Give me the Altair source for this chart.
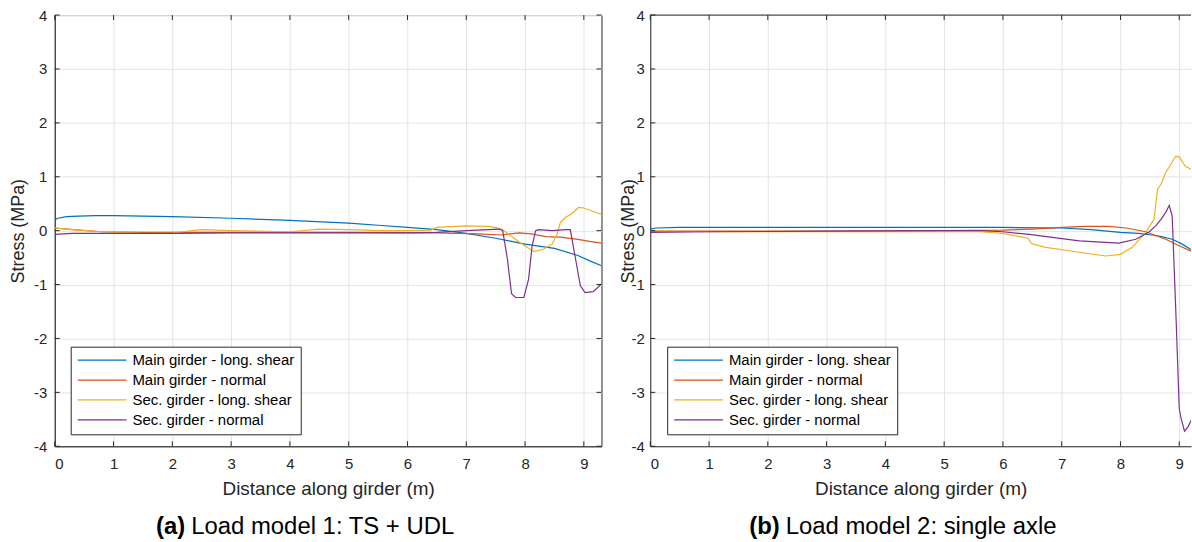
import altair as alt
import pandas as pd

SERIES = ["Main girder - long. shear", "Main girder - normal",
          "Sec. girder - long. shear", "Sec. girder - normal"]
COLORS = ["#0072BD", "#D95319", "#EDB120", "#7E2F8E"]
X_TICKS = list(range(0, 10))
Y_TICKS = list(range(-4, 5))

# ---- (a) Load model 1: TS + UDL ----
a_mgs_x = [0, 0.05, 0.2, 0.4, 0.7, 1.0, 1.5, 2.0, 3.0, 4.0, 5.0, 5.5, 6.0, 6.5, 7.0, 7.5, 8.0, 8.5, 8.9, 9.1, 9.3]
a_mgs_y = [0.20, 0.23, 0.26, 0.27, 0.28, 0.28, 0.27, 0.26, 0.23, 0.19, 0.14, 0.10, 0.06, 0.02, -0.05, -0.14, -0.25, -0.33, -0.46, -0.56, -0.65]
a_mgn_x = [0, 0.3, 0.8, 1.5, 3, 5, 6.5, 7.2, 7.6, 7.9, 8.1, 8.35, 8.6, 8.9, 9.1, 9.3]
a_mgn_y = [0.05, 0.02, -0.02, -0.03, -0.03, -0.03, -0.04, -0.06, -0.08, -0.04, -0.06, -0.11, -0.12, -0.16, -0.20, -0.23]
a_sgs_x = [0, 0.3, 0.8, 1.5, 2.0, 2.5, 3.0, 4.0, 4.5, 5.0, 5.5, 6.0, 6.4, 6.5, 7.0, 7.4, 7.6, 7.9, 8.15, 8.3, 8.46, 8.55, 8.6, 8.68, 8.8, 8.91, 9.0, 9.3]
a_sgs_y = [0.05, 0.02, -0.02, -0.05, -0.04, 0.02, 0.0, -0.02, 0.03, 0.02, 0.0, 0.0, 0.01, 0.06, 0.09, 0.08, 0.03, -0.21, -0.39, -0.35, -0.25, -0.05, 0.15, 0.24, 0.32, 0.43, 0.42, 0.30]
a_sgn_x = [0, 0.3, 1, 2, 3, 4, 5, 6, 6.5, 7.0, 7.56, 7.62, 7.70, 7.77, 7.84, 7.98, 8.06, 8.12, 8.18, 8.23, 8.46, 8.69, 8.77, 8.85, 8.94, 9.02, 9.16, 9.3]
a_sgn_y = [-0.07, -0.05, -0.05, -0.05, -0.04, -0.04, -0.04, -0.04, -0.03, 0.0, 0.03, 0.0, -0.53, -1.17, -1.24, -1.24, -0.9, -0.28, 0.0, 0.02, 0.0, 0.02, 0.02, -0.47, -1.02, -1.15, -1.13, -0.99]

# ---- (b) Load model 2: single axle ----
b_mgs_x = [0, 0.1, 0.5, 2, 4, 6, 7, 7.5, 8.0, 8.3, 8.54, 8.7, 8.88, 9.05, 9.2]
b_mgs_y = [0.03, 0.05, 0.06, 0.06, 0.06, 0.06, 0.05, 0.02, -0.03, -0.05, -0.08, -0.11, -0.16, -0.25, -0.35]
b_mgn_x = [0, 1, 3, 5, 6, 6.5, 7.0, 7.4, 7.8, 8.1, 8.43, 8.6, 8.77, 9.0, 9.2]
b_mgn_y = [-0.01, -0.01, -0.01, 0.0, 0.01, 0.03, 0.06, 0.08, 0.08, 0.05, -0.02, -0.09, -0.16, -0.28, -0.38]
b_sgs_x = [0, 1, 3, 5, 5.6, 6.0, 6.28, 6.43, 6.48, 6.73, 7.3, 7.75, 8.0, 8.2, 8.43, 8.57, 8.63, 8.69, 8.77, 8.94, 9.0, 9.1, 9.2]
b_sgs_y = [0.0, -0.02, -0.02, -0.02, -0.02, -0.05, -0.11, -0.14, -0.24, -0.31, -0.40, -0.47, -0.44, -0.31, -0.03, 0.21, 0.77, 0.86, 1.08, 1.38, 1.37, 1.20, 1.14]
b_sgn_x = [0, 1, 3, 5, 5.6, 6.0, 6.45, 7.3, 7.97, 8.26, 8.48, 8.60, 8.69, 8.77, 8.83, 8.88, 8.94, 9.0, 9.03, 9.09, 9.15, 9.2]
b_sgn_y = [-0.03, -0.02, -0.01, 0.0, 0.0, -0.02, -0.07, -0.19, -0.23, -0.16, -0.03, 0.09, 0.21, 0.34, 0.47, 0.27, -1.45, -3.30, -3.48, -3.72, -3.64, -3.52]

FONT = "Liberation Sans"
TXT = "#262626"
H = 433


def frame(pairs):
    rows = []
    for name, (xs, ys) in zip(SERIES, pairs):
        for i, (x, y) in enumerate(zip(xs, ys)):
            rows.append({"series": name, "x": x, "y": y, "i": i})
    return pd.DataFrame(rows)


def panel(df, xmax, width, title_x, label_pad, legend_x, cap_bold, cap_rest, cap_x, right_box):
    xs = alt.Scale(domain=[0, xmax], nice=False, zero=False)
    ys = alt.Scale(domain=[-4, 4], nice=False, zero=False)
    x_axis = alt.Axis(title="Distance along girder (m)", values=X_TICKS,
                      labelExpr="'' + datum.value", labelPadding=10, titlePadding=8,
                      titleFontSize=19)
    y_axis = alt.Axis(title="Stress (MPa)", values=Y_TICKS, labelExpr="'' + datum.value",
                      labelPadding=label_pad, titleX=title_x, titleY=H / 2,
                      titleAngle=270, titleBaseline="middle", titleAlign="center")
    lines = alt.Chart(df).mark_line(strokeWidth=1.2, clip=True).encode(
        x=alt.X("x:Q", scale=xs, axis=x_axis),
        y=alt.Y("y:Q", scale=ys, axis=y_axis),
        color=alt.Color("series:N", scale=alt.Scale(domain=SERIES, range=COLORS),
                        legend=alt.Legend(
                            title=None, orient="none", legendX=legend_x, legendY=333,
                            symbolType="stroke", symbolSize=2401,
                            symbolStrokeWidth=1.2, labelFontSize=15, labelFont=FONT,
                            labelLimit=400,
                            labelColor="#000000", strokeColor=TXT, fillColor="white",
                            padding=6, rowPadding=4, labelOffset=5, clipHeight=15)),
        order=alt.Order("i:Q"),
    )
    xt = pd.DataFrame({"x": X_TICKS})
    yt = pd.DataFrame({"y": Y_TICKS})
    tick_style = dict(color=TXT, strokeWidth=1)
    layers = [lines]
    layers.append(alt.Chart(xt).mark_rule(**tick_style).encode(
        x=alt.X("x:Q", scale=xs, axis=x_axis), y=alt.value(H), y2=alt.value(H - 5)))
    layers.append(alt.Chart(xt).mark_rule(**tick_style).encode(
        x=alt.X("x:Q", scale=xs, axis=x_axis), y=alt.value(0), y2=alt.value(5)))
    layers.append(alt.Chart(yt).mark_rule(**tick_style).encode(
        y=alt.Y("y:Q", scale=ys, axis=y_axis), x=alt.value(0), x2=alt.value(5)))
    one = pd.DataFrame({"k": [0]})
    if right_box:
        layers.append(alt.Chart(yt).mark_rule(**tick_style).encode(
            y=alt.Y("y:Q", scale=ys, axis=y_axis), x=alt.value(width - 5), x2=alt.value(width)))
    else:
        layers.append(alt.Chart(one).mark_rule(color=TXT, strokeWidth=1).encode(
            x=alt.value(0), x2=alt.value(width), y=alt.value(0)))
    layers.append(alt.Chart(one).mark_text(
        text=cap_bold, font=FONT, fontSize=24, fontWeight="bold", align="right",
        baseline="middle", color="#000000").encode(x=alt.value(cap_x), y=alt.value(514)))
    layers.append(alt.Chart(one).mark_text(
        text=cap_rest, font=FONT, fontSize=24, align="left",
        baseline="middle", color="#000000").encode(x=alt.value(cap_x + 6), y=alt.value(514)))
    ch = alt.layer(*layers).properties(width=width, height=H)
    if not right_box:
        ch = ch.properties(view=alt.ViewBackground(stroke="transparent"))
    return ch


left = panel(frame([(a_mgs_x, a_mgs_y), (a_mgn_x, a_mgn_y), (a_sgs_x, a_sgs_y), (a_sgn_x, a_sgn_y)]),
             9.3, 549, -36, 8, 16, "(a)", "Load model 1: TS + UDL", 131, True)
right = panel(frame([(b_mgs_x, b_mgs_y), (b_mgn_x, b_mgn_y), (b_sgs_x, b_sgs_y), (b_sgn_x, b_sgn_y)]),
              9.2, 543, -22, 6, 17, "(b)", "Load model 2: single axle", 130, False)

chart = alt.hconcat(left, right, spacing=16).resolve_scale(color="independent").resolve_legend(
    color="independent"
).properties(
    padding={"left": 9, "top": 6, "right": 0, "bottom": 0},
    background="white",
).configure_view(
    stroke=TXT, strokeWidth=1
).configure_axis(
    labelFont=FONT, titleFont=FONT, labelFontSize=15, titleFontSize=18,
    titleFontWeight="normal", labelColor=TXT, titleColor=TXT,
    domainColor=TXT, domainWidth=1, ticks=False, grid=True,
    gridColor="#e4e4e4", gridWidth=1,
)

chart.save("out.html", embed_options={"renderer": "svg", "actions": False})
